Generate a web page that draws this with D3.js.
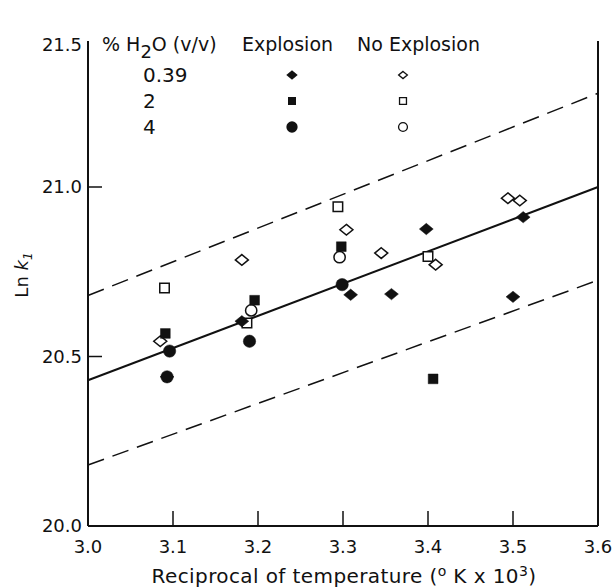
<!DOCTYPE html>
<html>
<head>
<meta charset="utf-8">
<script src="https://cdn.jsdelivr.net/npm/d3@7"></script>
<style>
  body { margin: 0; background: #fff; }
  text { font-family: "DejaVu Sans", Verdana, sans-serif; fill: #111; }
</style>
</head>
<body>
<div id="chart"></div>
<script>
// tick values
const xTicks = [3.0, 3.1, 3.2, 3.3, 3.4, 3.5, 3.6];
const yTicks = [20.0, 20.5, 21.0, 21.5];

// [reciprocal temperature, ln k1]
const exp039 = [[3.181, 20.604], [3.309, 20.682], [3.357, 20.684], [3.398, 20.876], [3.500, 20.676], [3.512, 20.911], [3.093, 20.44]];
const noExp039 = [[3.085, 20.545], [3.181, 20.785], [3.304, 20.874], [3.345, 20.805], [3.409, 20.771], [3.494, 20.967], [3.508, 20.96]];
const exp2 = [[3.091, 20.568], [3.196, 20.666], [3.298, 20.824], [3.406, 20.434]];
const noExp2 = [[3.090, 20.702], [3.187, 20.599], [3.294, 20.942], [3.400, 20.795]];
const exp4 = [[3.096, 20.516], [3.093, 20.44], [3.190, 20.545], [3.299, 20.712]];
const noExp4 = [[3.192, 20.636], [3.296, 20.793]];

// regression line and its bounds
const fitLine = [[3.0, 20.43], [3.6, 21.0]];
const upperBound = [[3.0, 20.68], [3.6, 21.33]];
const lowerBound = [[3.0, 20.18], [3.6, 20.725]];

const legendRows = ["0.39", "2", "4"];

const width = 615, height = 588;

const svg = d3.select("#chart").append("svg")
  .attr("width", width)
  .attr("height", height);

const x = d3.scaleLinear().domain([3.0, 3.6]).range([88, 598]);
// the scanned figure's top half-unit is shorter than the rest
const y = d3.scaleLinear().domain([20.0, 21.0, 21.5]).range([526, 187, 45]);

// diamond a little wider than tall
const wideDiamond = {
  draw(ctx, size) {
    const w = Math.sqrt(size) * 0.62, h = w * 0.82;
    ctx.moveTo(0, -h); ctx.lineTo(w, 0); ctx.lineTo(0, h); ctx.lineTo(-w, 0); ctx.closePath();
  }
};

// axes
svg.append("line")
  .attr("x1", x(3.0)).attr("x2", x(3.0))
  .attr("y1", y(21.5) - 4).attr("y2", y(20.0))
  .attr("stroke", "#111").attr("stroke-width", 2);
svg.append("line")
  .attr("x1", x(3.6)).attr("x2", x(3.6))
  .attr("y1", y(21.5) - 4).attr("y2", y(20.0))
  .attr("stroke", "#111").attr("stroke-width", 2);
svg.append("line")
  .attr("x1", x(3.0)).attr("x2", x(3.6))
  .attr("y1", y(20.0)).attr("y2", y(20.0))
  .attr("stroke", "#111").attr("stroke-width", 2);

// x ticks (inward)
svg.append("g").selectAll("line")
  .data(xTicks.slice(1, -1))
  .join("line")
  .attr("x1", d => x(d)).attr("x2", d => x(d))
  .attr("y1", y(20.0)).attr("y2", y(20.0) - 15)
  .attr("stroke", "#111").attr("stroke-width", 1.5);

svg.append("g").selectAll("text")
  .data(xTicks)
  .join("text")
  .attr("x", d => x(d))
  .attr("y", 553)
  .attr("text-anchor", "middle")
  .attr("font-size", 18)
  .text(d => d.toFixed(1));

// y ticks (inward)
svg.append("g").selectAll("line")
  .data([20.5, 21.0])
  .join("line")
  .attr("x1", x(3.0)).attr("x2", x(3.0) + 14)
  .attr("y1", d => y(d)).attr("y2", d => y(d))
  .attr("stroke", "#111").attr("stroke-width", 1.5);

svg.append("g").selectAll("text")
  .data(yTicks)
  .join("text")
  .attr("x", 82)
  .attr("y", d => y(d) + 6)
  .attr("text-anchor", "end")
  .attr("font-size", 18)
  .text(d => d.toFixed(1));

// axis titles
const xt = svg.append("text")
  .attr("x", 344).attr("y", 583)
  .attr("text-anchor", "middle")
  .attr("font-size", 20)
  .attr("letter-spacing", 0.4);
xt.append("tspan").text("Reciprocal of  temperature (");
xt.append("tspan").attr("dy", -7).attr("font-size", 14).text("o");
xt.append("tspan").attr("dy", 7).text(" K x 10");
xt.append("tspan").attr("dy", -7).attr("font-size", 14).text("3");
xt.append("tspan").attr("dy", 7).text(")");

const yt = svg.append("text")
  .attr("transform", "translate(28,275) rotate(-90)")
  .attr("text-anchor", "middle")
  .attr("font-size", 18);
yt.append("tspan").text("Ln ");
yt.append("tspan").attr("font-style", "italic").text("k");
yt.append("tspan").attr("dy", 4).attr("font-size", 12).attr("font-style", "italic").text("1");

// lines
const line = d3.line().x(d => x(d[0])).y(d => y(d[1]));
svg.append("path").attr("d", line(fitLine))
  .attr("fill", "none").attr("stroke", "#111").attr("stroke-width", 2);
[upperBound, lowerBound].forEach(b => {
  svg.append("path").attr("d", line(b))
    .attr("fill", "none").attr("stroke", "#111").attr("stroke-width", 1.5)
    .attr("stroke-dasharray", "17,9");
});

// points
function drawPoints(data, type, size, filled) {
  svg.append("g").selectAll("path")
    .data(data)
    .join("path")
    .attr("transform", d => "translate(" + x(d[0]) + "," + y(d[1]) + ")")
    .attr("d", d3.symbol().type(type).size(size))
    .attr("fill", filled ? "#111" : "#fff")
    .attr("stroke", "#111")
    .attr("stroke-width", filled ? 0.5 : 1.5);
}
drawPoints(noExp039, wideDiamond, 110, false);
drawPoints(noExp2, d3.symbolSquare, 90, false);
drawPoints(noExp4, d3.symbolCircle, 100, false);
drawPoints(exp039, wideDiamond, 125, true);
drawPoints(exp2, d3.symbolSquare, 95, true);
drawPoints(exp4, d3.symbolCircle, 120, true);

// legend
const lg = svg.append("g");
const hdr = lg.append("text").attr("x", 102).attr("y", 51).attr("font-size", 19);
hdr.append("tspan").text("% H");
hdr.append("tspan").attr("dy", 7).attr("font-size", 18).text("2");
hdr.append("tspan").attr("dy", -7).text("O (v/v)");
lg.append("text").attr("x", 242).attr("y", 51).attr("font-size", 19).text("Explosion");
lg.append("text").attr("x", 357).attr("y", 51).attr("font-size", 19).text("No Explosion");

const rowY = [75, 101, 127];
lg.selectAll("text.row")
  .data(legendRows)
  .join("text")
  .attr("class", "row")
  .attr("x", 143)
  .attr("y", (d, i) => rowY[i] + 7)
  .attr("font-size", 20)
  .text(d => d);

const legendSyms = [
  [wideDiamond, 85, 50],
  [d3.symbolSquare, 64, 48],
  [d3.symbolCircle, 100, 62]
];
legendSyms.forEach((s, i) => {
  lg.append("path")
    .attr("transform", "translate(292," + rowY[i] + ")")
    .attr("d", d3.symbol().type(s[0]).size(s[1]))
    .attr("fill", "#111");
  lg.append("path")
    .attr("transform", "translate(403," + rowY[i] + ")")
    .attr("d", d3.symbol().type(s[0]).size(s[2]))
    .attr("fill", "#fff").attr("stroke", "#111").attr("stroke-width", 1.3);
});
</script>
</body>
</html>
